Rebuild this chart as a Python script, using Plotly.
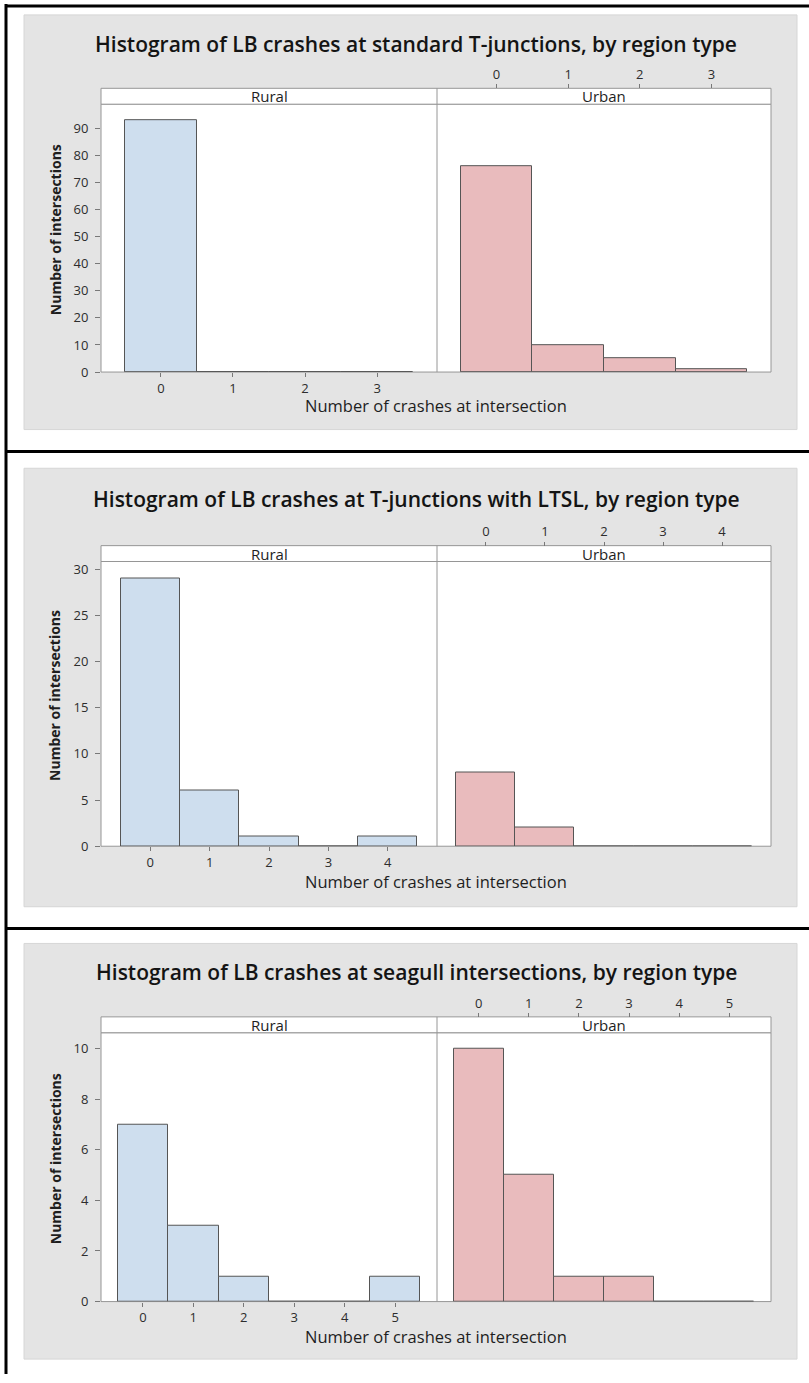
import plotly.graph_objects as go

# ---------------- data ----------------
panel_titles = [
    "Histogram of LB crashes at standard T-junctions, by region type",
    "Histogram of LB crashes at T-junctions with LTSL, by region type",
    "Histogram of LB crashes at seagull intersections, by region type",
]
facet_names = ["Rural", "Urban"]

crashes_std = [0, 1, 2, 3]
rural_std = [93, 0, 0, 0]
urban_std = [76, 10, 5, 1]

crashes_ltsl = [0, 1, 2, 3, 4]
rural_ltsl = [29, 6, 1, 0, 1]
urban_ltsl = [8, 2, 0, 0, 0]

crashes_seagull = [0, 1, 2, 3, 4, 5]
rural_seagull = [7, 3, 1, 0, 0, 1]
urban_seagull = [10, 5, 1, 1, 0, 0]

y_dticks = [10, 5, 2]
x_title = "Number of crashes at intersection"
y_title = "Number of intersections"

panels_data = [
    (crashes_std, rural_std, urban_std),
    (crashes_ltsl, rural_ltsl, urban_ltsl),
    (crashes_seagull, rural_seagull, urban_seagull),
]

# ---------------- layout geometry (pixels) ----------------
W, H = 809, 1383
def X(px):
    return px / W
def Y(py):
    return 1 - py / H

geom = [
    dict(box=(13, 431), title=42, strip=(87, 103), bottom=373, xtitle=407),
    dict(box=(470, 912), title=501, strip=(548, 564), bottom=851, xtitle=887),
    dict(box=(949, 1368), title=978, strip=(1023, 1039), bottom=1310, xtitle=1345),
]
BOX_L, BOX_R = 24, 797
PL, PM, PR = 101, 437, 771

FONT = "Open Sans"
rural_fill = "rgb(206,222,238)"
urban_fill = "rgb(233,187,189)"
bar_line = "rgb(85,85,85)"
frame_col = "rgb(150,150,150)"
tick_col = "rgb(120,120,120)"
txt_col = "rgb(30,30,30)"

fig = go.Figure()
shapes = []
annotations = []
layout_axes = {}

# table lines
shapes.append(dict(type="line", xref="paper", yref="paper", x0=X(6), x1=X(6), y0=Y(2), y1=Y(H),
                   line=dict(color="black", width=3), layer="above"))
for ly in [4, 453, 934]:
    shapes.append(dict(type="line", xref="paper", yref="paper", x0=X(5), x1=X(W), y0=Y(ly), y1=Y(ly),
                       line=dict(color="black", width=3), layer="above"))

for p, (cats, rural, urban) in enumerate(panels_data):
    g = geom[p]
    ymax = max(rural + urban) * 1.063
    xmin, xmax = -0.83, len(cats) - 1 + 0.83
    st, sb = g["strip"]
    # grey background box
    shapes.append(dict(type="rect", xref="paper", yref="paper", x0=X(BOX_L), x1=X(BOX_R),
                       y0=Y(g["box"][1]), y1=Y(g["box"][0]), fillcolor="rgb(228,228,228)",
                       line=dict(width=1, color="rgb(214,214,214)"), layer="below"))
    # plot area + strip
    shapes.append(dict(type="rect", xref="paper", yref="paper", x0=X(PL), x1=X(PR),
                       y0=Y(g["bottom"]), y1=Y(sb), fillcolor="white",
                       line=dict(width=1, color=frame_col), layer="below"))
    shapes.append(dict(type="rect", xref="paper", yref="paper", x0=X(PL), x1=X(PR),
                       y0=Y(sb), y1=Y(st), fillcolor="white",
                       line=dict(width=1, color=frame_col), layer="below"))
    shapes.append(dict(type="line", xref="paper", yref="paper", x0=X(PM), x1=X(PM),
                       y0=Y(g["bottom"]), y1=Y(st), line=dict(width=1, color=frame_col), layer="below"))

    # titles
    annotations.append(dict(text=panel_titles[p], xref="paper", yref="paper", x=X(416), y=Y(g["title"]),
                            xanchor="center", yanchor="middle", showarrow=False,
                            font=dict(family=FONT, size=21, color="rgb(20,20,20)", weight=600)))
    annotations.append(dict(text=x_title, xref="paper", yref="paper", x=X((PL + PR) / 2), y=Y(g["xtitle"]),
                            xanchor="center", yanchor="middle", showarrow=False,
                            font=dict(family=FONT, size=16.5, color=txt_col)))
    annotations.append(dict(text="<b>" + y_title + "</b>", xref="paper", yref="paper", x=X(55),
                            y=Y((st + g["bottom"]) / 2), xanchor="center", yanchor="middle",
                            textangle=-90, showarrow=False,
                            font=dict(family=FONT, size=14, color=txt_col)))

    for f, (name, vals, fill) in enumerate([("Rural", rural, rural_fill), ("Urban", urban, urban_fill)]):
        k = 2 * p + f + 1
        xl, xr = (PL, PM) if f == 0 else (PM, PR)
        xs = "x" if k == 1 else f"x{k}"
        ys = "y" if k == 1 else f"y{k}"
        fig.add_trace(go.Bar(x=cats, y=vals, width=1, xaxis=xs, yaxis=ys,
                             marker=dict(color=fill, line=dict(color=bar_line, width=1)),
                             showlegend=False, hoverinfo="x+y"))
        annotations.append(dict(text=name, xref="paper", yref="paper", x=X((xl + xr) / 2),
                                y=Y((st + sb) / 2), xanchor="center", yanchor="middle", showarrow=False,
                                font=dict(family=FONT, size=15, color=txt_col)))
        xa = dict(domain=[X(xl), X(xr)], range=[xmin, xmax], tickmode="array", tickvals=cats,
                  ticktext=[str(c) for c in cats], showgrid=False, zeroline=False, showline=False,
                  ticks="outside", ticklen=4, tickcolor=tick_col,
                  tickfont=dict(family=FONT, size=13, color="rgb(45,45,45)"))
        if f == 0:
            xa.update(anchor=ys, side="bottom")
        else:
            xa.update(anchor="free", position=Y(st), side="top")
        ya = dict(domain=[Y(g["bottom"]), Y(sb)], range=[0, ymax], anchor=xs, showgrid=False,
                  zeroline=False, showline=False, dtick=y_dticks[p], tick0=0)
        if f == 0:
            ya.update(ticks="outside", ticklen=5, tickcolor=tick_col, ticklabelstandoff=4,
                      tickfont=dict(family=FONT, size=13, color="rgb(45,45,45)"))
        else:
            ya.update(ticks="", showticklabels=False)
        layout_axes["xaxis" if k == 1 else f"xaxis{k}"] = xa
        layout_axes["yaxis" if k == 1 else f"yaxis{k}"] = ya

fig.update_layout(width=W, height=H, margin=dict(l=0, r=0, t=0, b=0),
                  paper_bgcolor="white", plot_bgcolor="rgba(0,0,0,0)",
                  shapes=shapes, annotations=annotations, bargap=0, **layout_axes)
fig.write_html("out.html")
